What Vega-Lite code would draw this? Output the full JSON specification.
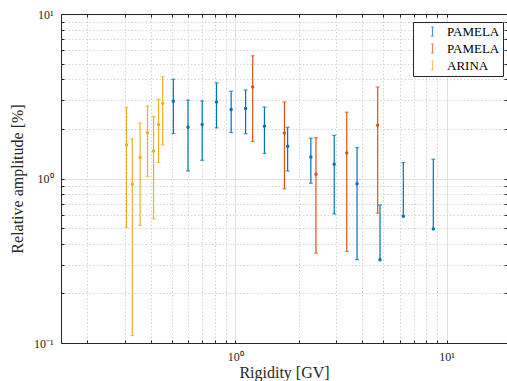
{
  "$schema": "https://vega.github.io/schema/vega-lite/v6.json",
  "width": 446,
  "height": 329,
  "autosize": {"type": "none"},
  "padding": {"left": 61, "top": 14, "right": 0, "bottom": 38},
  "background": "white",
  "config": {
    "view": {"stroke": null},
    "font": "Liberation Serif",
    "axis": {
      "domainColor": "#262626",
      "tickColor": "#262626",
      "tickSize": -3,
      "tickWidth": 1,
      "labelFont": "Liberation Serif",
      "labelFontSize": 12,
      "labelColor": "#262626",
      "labelOverlap": false,
      "titleFont": "Liberation Serif",
      "titleFontSize": 16,
      "titleFontWeight": "normal",
      "titleColor": "#262626"
    }
  },
  "data": {
    "values": [
      {"series": "ARINA", "rigidity": 0.306, "amp": 1.60, "lo": 0.503, "hi": 2.70},
      {"series": "ARINA", "rigidity": 0.326, "amp": 0.924, "lo": 0.111, "hi": 1.74},
      {"series": "ARINA", "rigidity": 0.355, "amp": 1.34, "lo": 0.519, "hi": 2.17},
      {"series": "ARINA", "rigidity": 0.385, "amp": 1.90, "lo": 1.03, "hi": 2.76},
      {"series": "ARINA", "rigidity": 0.411, "amp": 1.47, "lo": 0.568, "hi": 2.38},
      {"series": "ARINA", "rigidity": 0.434, "amp": 2.13, "lo": 1.25, "hi": 3.03},
      {"series": "ARINA", "rigidity": 0.454, "amp": 2.87, "lo": 1.60, "hi": 4.15},
      {"series": "PAMELA 1", "rigidity": 0.510, "amp": 2.95, "lo": 1.88, "hi": 4.01},
      {"series": "PAMELA 1", "rigidity": 0.598, "amp": 2.05, "lo": 1.11, "hi": 3.00},
      {"series": "PAMELA 1", "rigidity": 0.698, "amp": 2.13, "lo": 1.29, "hi": 2.96},
      {"series": "PAMELA 1", "rigidity": 0.816, "amp": 2.92, "lo": 2.03, "hi": 3.81},
      {"series": "PAMELA 1", "rigidity": 0.957, "amp": 2.63, "lo": 1.90, "hi": 3.39},
      {"series": "PAMELA 1", "rigidity": 1.12, "amp": 2.66, "lo": 1.87, "hi": 3.45},
      {"series": "PAMELA 1", "rigidity": 1.375, "amp": 2.08, "lo": 1.42, "hi": 2.72},
      {"series": "PAMELA 1", "rigidity": 1.77, "amp": 1.57, "lo": 1.11, "hi": 2.05},
      {"series": "PAMELA 1", "rigidity": 2.28, "amp": 1.35, "lo": 0.936, "hi": 1.76},
      {"series": "PAMELA 1", "rigidity": 2.94, "amp": 1.22, "lo": 0.609, "hi": 1.83},
      {"series": "PAMELA 1", "rigidity": 3.77, "amp": 0.928, "lo": 0.321, "hi": 1.54},
      {"series": "PAMELA 1", "rigidity": 4.84, "amp": 0.321, "lo": null, "hi": 0.691},
      {"series": "PAMELA 1", "rigidity": 6.24, "amp": 0.589, "lo": null, "hi": 1.25},
      {"series": "PAMELA 1", "rigidity": 8.65, "amp": 0.494, "lo": null, "hi": 1.31},
      {"series": "PAMELA 2", "rigidity": 1.21, "amp": 3.60, "lo": 1.68, "hi": 5.57},
      {"series": "PAMELA 2", "rigidity": 1.71, "amp": 1.89, "lo": 0.865, "hi": 2.92},
      {"series": "PAMELA 2", "rigidity": 2.41, "amp": 1.06, "lo": 0.352, "hi": 1.77},
      {"series": "PAMELA 2", "rigidity": 3.37, "amp": 1.43, "lo": 0.360, "hi": 2.53},
      {"series": "PAMELA 2", "rigidity": 4.72, "amp": 2.11, "lo": 0.615, "hi": 3.60}
    ]
  },
  "layer": [
    {
      "mark": {"type": "rule", "strokeWidth": 1.2},
      "encoding": {
        "x": {"field": "rigidity", "type": "quantitative",
              "scale": {"type": "log", "domain": [0.15, 19.3], "nice": false},
              "axis": {"title": "Rigidity [GV]", "orient": "bottom",
                       "values": [0.2,0.3,0.4,0.5,0.6,0.7,0.8,0.9,1,2,3,4,5,6,7,8,9,10],
                       "labelExpr": "datum.value === 1 ? '10⁰' : datum.value === 10 ? '10¹' : ''",
                       "labelPadding": 11,
                       "grid": true,
                       "gridColor": {"condition": {"test": "datum.value === 1 || datum.value === 10", "value": "#e2e2e2"}, "value": "#d4d4d4"},
                       "gridDash": {"condition": {"test": "datum.value === 1 || datum.value === 10", "value": []}, "value": [1.5, 2]},
                       "gridWidth": 1,
                       "titleY": 34, "titleBaseline": "alphabetic"}},
        "y": {"field": "amp", "type": "quantitative",
              "scale": {"type": "log", "domain": [0.1, 10], "nice": false},
              "axis": {"title": "Relative amplitude [%]", "orient": "left",
                       "values": [0.1,0.2,0.3,0.4,0.5,0.6,0.7,0.8,0.9,1,2,3,4,5,6,7,8,9,10],
                       "labelExpr": "datum.value === 0.1 ? '10⁻¹' : datum.value === 1 ? '10⁰' : datum.value === 10 ? '10¹' : ''",
                       "labelPadding": 11,
                       "grid": true,
                       "gridColor": {"condition": {"test": "datum.value === 1", "value": "#e2e2e2"}, "value": "#d4d4d4"},
                       "gridDash": {"condition": {"test": "datum.value === 1", "value": []}, "value": [1.5, 2]},
                       "gridWidth": 1,
                       "titleX": -44, "titleY": 164.5, "titleBaseline": "middle", "titleAlign": "center", "titleAngle": -90}},
        "y2": {"field": "hi"},
        "color": {"field": "series", "type": "nominal",
                  "scale": {"domain": ["PAMELA 1", "PAMELA 2", "ARINA"], "range": ["#0072BD", "#D95319", "#EDB120"]},
                  "legend": {"orient": "none", "legendX": 352, "legendY": 8, "title": null,
                             "symbolType": "M0,-1V1M-0.3,-1H0.3M-0.3,1H0.3", "symbolSize": 81, "symbolStrokeWidth": 1.2,
                             "labelFont": "Liberation Serif", "labelFontSize": 13, "labelColor": "black",
                             "labelExpr": "split(datum.label, ' ')[0]",
                             "padding": 3, "symbolOffset": 10, "labelOffset": 8, "rowPadding": 2,
                             "strokeColor": "#262626", "fillColor": "white"}}
      }
    },
    {
      "mark": {"type": "rule", "strokeWidth": 1.2},
      "encoding": {
        "x": {"field": "rigidity", "type": "quantitative", "axis": null},
        "y": {"field": "lo", "type": "quantitative", "axis": null},
        "y2": {"field": "amp"},
        "color": {"field": "series", "type": "nominal",
                  "legend": {"orient": "none", "legendX": 352, "legendY": 8, "title": null,
                             "symbolType": "M0,-1V1M-0.3,-1H0.3M-0.3,1H0.3", "symbolSize": 81, "symbolStrokeWidth": 1.2,
                             "labelFont": "Liberation Serif", "labelFontSize": 13, "labelColor": "black",
                             "labelExpr": "split(datum.label, ' ')[0]",
                             "padding": 3, "symbolOffset": 10, "labelOffset": 8, "rowPadding": 2,
                             "strokeColor": "#262626", "fillColor": "white"}}
      }
    },
    {
      "mark": {"type": "tick", "orient": "horizontal", "size": 4, "thickness": 1.2},
      "encoding": {
        "x": {"field": "rigidity", "type": "quantitative",
              "axis": {"orient": "top", "title": null, "labels": false, "grid": false,
                       "values": [0.2,0.3,0.4,0.5,0.6,0.7,0.8,0.9,1,2,3,4,5,6,7,8,9,10]}},
        "y": {"field": "hi", "type": "quantitative",
              "axis": {"orient": "right", "title": null, "labels": false, "grid": false,
                       "values": [0.1,0.2,0.3,0.4,0.5,0.6,0.7,0.8,0.9,1,2,3,4,5,6,7,8,9,10]}},
        "color": {"field": "series", "type": "nominal",
                  "legend": {"orient": "none", "legendX": 352, "legendY": 8, "title": null,
                             "symbolType": "M0,-1V1M-0.3,-1H0.3M-0.3,1H0.3", "symbolSize": 81, "symbolStrokeWidth": 1.2,
                             "labelFont": "Liberation Serif", "labelFontSize": 13, "labelColor": "black",
                             "labelExpr": "split(datum.label, ' ')[0]",
                             "padding": 3, "symbolOffset": 10, "labelOffset": 8, "rowPadding": 2,
                             "strokeColor": "#262626", "fillColor": "white"}}
      }
    },
    {
      "mark": {"type": "tick", "orient": "horizontal", "size": 4, "thickness": 1.2},
      "encoding": {
        "x": {"field": "rigidity", "type": "quantitative", "axis": null},
        "y": {"field": "lo", "type": "quantitative", "axis": null},
        "color": {"field": "series", "type": "nominal",
                  "legend": {"orient": "none", "legendX": 352, "legendY": 8, "title": null,
                             "symbolType": "M0,-1V1M-0.3,-1H0.3M-0.3,1H0.3", "symbolSize": 81, "symbolStrokeWidth": 1.2,
                             "labelFont": "Liberation Serif", "labelFontSize": 13, "labelColor": "black",
                             "labelExpr": "split(datum.label, ' ')[0]",
                             "padding": 3, "symbolOffset": 10, "labelOffset": 8, "rowPadding": 2,
                             "strokeColor": "#262626", "fillColor": "white"}}
      }
    },
    {
      "mark": {"type": "point", "filled": true, "size": 12, "shape": "circle", "opacity": 1},
      "encoding": {
        "x": {"field": "rigidity", "type": "quantitative", "axis": null},
        "y": {"field": "amp", "type": "quantitative", "axis": null},
        "color": {"field": "series", "type": "nominal",
                  "legend": {"orient": "none", "legendX": 352, "legendY": 8, "title": null,
                             "symbolType": "M0,-1V1M-0.3,-1H0.3M-0.3,1H0.3", "symbolSize": 81, "symbolStrokeWidth": 1.2,
                             "labelFont": "Liberation Serif", "labelFontSize": 13, "labelColor": "black",
                             "labelExpr": "split(datum.label, ' ')[0]",
                             "padding": 3, "symbolOffset": 10, "labelOffset": 8, "rowPadding": 2,
                             "strokeColor": "#262626", "fillColor": "white"}}
      }
    }
  ],
  "resolve": {"axis": {"x": "independent", "y": "independent"}}
}
